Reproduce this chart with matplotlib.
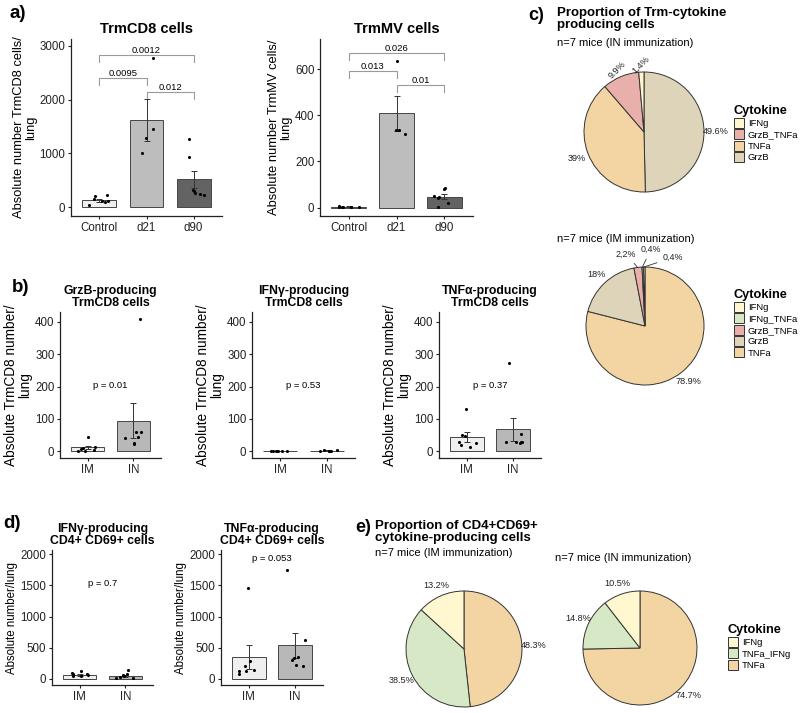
import numpy as np
import matplotlib.pyplot as plt
from matplotlib.patches import Patch

plt.rcParams['font.family'] = ['Liberation Sans', 'DejaVu Sans']

W, H = 800, 713

# ---- a) TrmCD8 / TrmMV cells ----
a_groups = ['Control', 'd21', 'd90']
cd8_mean = [130, 1630, 520]
cd8_se = [25, 390, 155]
cd8_ctrl = [120, 110, 95, 150, 210, 230, 45]
cd8_d21 = [2780, 1450, 1280, 1010]
cd8_d90 = [1260, 940, 330, 300, 260, 230, 250]
cd8_p = ['0.0095', '0.012', '0.0012']
cd8_p_y = [2410, 2150, 2830]

mv_mean = [4, 408, 47]
mv_se = [1.5, 77, 11]
mv_ctrl = [1, 2, 3, 2, 5, 8, 2]
mv_d21 = [636, 335, 321, 338]
mv_d90 = [85, 82, 48, 50, 40, 20, 5]
mv_p = ['0.013', '0.01', '0.026']
mv_p_y = [593, 531, 671]

# ---- b) cytokine-producing TrmCD8 ----
b_groups = ['IM', 'IN']
grzb_mean = [12, 95]
grzb_se = [6, 53]
grzb_im = [0, 2, 5, 8, 10, 15, 45]
grzb_in = [410, 60, 43, 41, 26, 23, 60]
ifng8_mean = [1, 2]
ifng8_se = [0.5, 1]
ifng8_im = [0, 1, 0, 2, 1, 0, 1]
ifng8_in = [5, 3, 1, 0, 2, 1, 2]
tnfa8_mean = [45, 68]
tnfa8_se = [15, 35]
tnfa8_im = [130, 50, 48, 28, 25, 20, 12]
tnfa8_in = [272, 55, 30, 28, 27, 30, 28]
b_pvals = ['p = 0.01', 'p = 0.53', 'p = 0.37']
b_p_y = [205, 205, 205]

# ---- d) CD4+ CD69+ ----
ifng4_mean = [60, 50]
ifng4_se = [12, 17]
ifng4_im = [120, 85, 70, 60, 50, 40, 80]
ifng4_in = [140, 70, 60, 50, 30, 20, 15]
tnfa4_mean = [348, 540]
tnfa4_se = [187, 200]
tnfa4_im = [1455, 278, 198, 140, 120, 130, 80]
tnfa4_in = [1743, 626, 358, 330, 219, 200, 300]
d_pvals = ['p = 0.7', 'p = 0.053']
d_p_y = [1535, 1930]

# ---- c), e) pies (clockwise from 12 o'clock) ----
c_in_names = ['GrzB', 'TNFa', 'GrzB_TNFa', 'IFNg']
c_in_pct = [49.6, 39.0, 9.9, 1.4]
c_in_text = ['49.6%', '39%', '9.9%', '1.4%']
c_im_names = ['TNFa', 'GrzB', 'GrzB_TNFa', 'IFNg_TNFa', 'IFNg']
c_im_pct = [78.9, 18.0, 2.2, 0.4, 0.4]
c_im_text = ['78.9%', '18%', '2,2%', '0,4%', '0,4%']
e_names = ['TNFa', 'TNFa_IFNg', 'IFNg']
e_im_pct = [48.3, 38.5, 13.2]
e_in_pct = [74.7, 14.8, 10.5]

pie_cols = {'IFNg': '#FFF7CF', 'GrzB_TNFa': '#E8AFAB', 'TNFa': '#F3D5A3',
            'GrzB': '#DDD4BA', 'IFNg_TNFa': '#D6E8C5', 'TNFa_IFNg': '#D6E8C5'}

rng = np.random.default_rng(7)


def rect(l, t, r, b):
    return [l / W, 1 - b / H, (r - l) / W, (b - t) / H]


def bar_panel(ax, groups, mean, se, pts, colors, ylim, yticks, ylabel, title, tsize, ysize):
    x = np.arange(1, len(groups) + 1)
    ax.bar(x, mean, width=0.72, color=colors, edgecolor='#454545', linewidth=0.7, zorder=1)
    ax.errorbar(x, mean, yerr=se, fmt='none', ecolor='#333333', elinewidth=0.7,
                capsize=2, capthick=0.7, zorder=2)
    for xi, p in zip(x, pts):
        jit = rng.uniform(-0.22, 0.22, len(p))
        ax.scatter(xi + jit, p, s=5, color='black', linewidths=0, zorder=3)
    ax.set_xlim(0.4, len(groups) + 0.6)
    ax.set_ylim(*ylim)
    ax.set_xticks(x)
    ax.set_xticklabels(groups)
    ax.set_yticks(yticks)
    ax.spines[['top', 'right']].set_visible(False)
    for s in ['left', 'bottom']:
        ax.spines[s].set_linewidth(0.9)
        ax.spines[s].set_color('#222222')
    ax.tick_params(length=2.5, width=0.8, color='#222222', labelsize=8.3,
                   labelcolor='#222222', pad=1.5)
    ax.set_ylabel(ylabel, fontsize=ysize, labelpad=2, linespacing=1.0)
    ax.set_title(title, fontsize=tsize, fontweight='bold', pad=4, linespacing=1.0)


def bracket(ax, x1, x2, y, text, tip):
    ax.plot([x1, x1, x2, x2], [y - tip, y, y, y - tip], color='#9a9a9a', lw=0.8, zorder=0)
    ax.text((x1 + x2) / 2, y, text, ha='center', va='bottom', fontsize=6.8)


fig = plt.figure(figsize=(8, 7.13), dpi=100)

# a)
a_cols = ['#EFEFEF', '#BDBDBD', '#636363']
ax = fig.add_axes(rect(71, 39, 222, 216))
bar_panel(ax, a_groups, cd8_mean, cd8_se, [cd8_ctrl, cd8_d21, cd8_d90], a_cols,
          (-160, 3125), [0, 1000, 2000, 3000], 'Absolute number TrmCD8 cells/\nlung',
          'TrmCD8 cells', 10.5, 9.3)
for (x1, x2), t, y in zip([(1, 2), (2, 3), (1, 3)], cd8_p, cd8_p_y):
    bracket(ax, x1, x2, y, t, 130)

ax = fig.add_axes(rect(320, 39, 473, 216))
bar_panel(ax, a_groups, mv_mean, mv_se, [mv_ctrl, mv_d21, mv_d90], a_cols,
          (-36, 730), [0, 200, 400, 600], 'Absolute number TrmMV cells/\nlung',
          'TrmMV cells', 10.5, 9.3)
for (x1, x2), t, y in zip([(1, 2), (2, 3), (1, 3)], mv_p, mv_p_y):
    bracket(ax, x1, x2, y, t, 30)

# b)
bd_cols = ['#EFEFEF', '#B8B8B8']
b_specs = [
    ((60, 312, 161, 458), grzb_mean, grzb_se, [grzb_im, grzb_in], 'GrzB-producing\nTrmCD8 cells'),
    ((252, 312, 355, 458), ifng8_mean, ifng8_se, [ifng8_im, ifng8_in], 'IFNγ-producing\nTrmCD8 cells'),
    ((439, 312, 541, 458), tnfa8_mean, tnfa8_se, [tnfa8_im, tnfa8_in], 'TNFα-producing\nTrmCD8 cells'),
]
for (box, m, s, pts, title), ptxt, py in zip(b_specs, b_pvals, b_p_y):
    ax = fig.add_axes(rect(*box))
    bar_panel(ax, b_groups, m, s, pts, bd_cols, (-20.5, 430.5), [0, 100, 200, 300, 400],
              'Absolute TrmCD8 number/\nlung', title, 8.8, 9.8)
    ax.text(1.5, py, ptxt, ha='center', va='center', fontsize=6.8)

# d)
d_specs = [
    ((52, 550, 153, 685), ifng4_mean, ifng4_se, [ifng4_im, ifng4_in], 'IFNγ-producing\nCD4+ CD69+ cells'),
    ((221, 550, 323, 685), tnfa4_mean, tnfa4_se, [tnfa4_im, tnfa4_in], 'TNFα-producing\nCD4+ CD69+ cells'),
]
for (box, m, s, pts, title), ptxt, py in zip(d_specs, d_pvals, d_p_y):
    ax = fig.add_axes(rect(*box))
    bar_panel(ax, b_groups, m, s, pts, bd_cols, (-100, 2070), [0, 500, 1000, 1500, 2000],
              'Absolute number/lung', title, 8.8, 8.3)
    ax.text(1.5, py, ptxt, ha='center', va='center', fontsize=6.8)


def pie(box, names, pct, texts, r_lab=1.2, rotate_small=False, manual=None):
    ax = fig.add_axes(rect(*box))
    ax.pie(pct, colors=[pie_cols[n] for n in names], startangle=90, counterclock=False,
           wedgeprops=dict(edgecolor='#333333', linewidth=0.7))
    ax.set_xlim(-1, 1)
    ax.set_ylim(-1, 1)
    ax.set_aspect('equal')
    ax.axis('off')
    cum = np.cumsum(pct)
    for i, (v, t) in enumerate(zip(pct, texts)):
        mid = np.deg2rad(90 - (cum[i] - v / 2) * 3.6)
        if manual and i in manual:
            tx, ty = manual[i]
            ax.annotate(t, xy=(np.cos(mid), np.sin(mid)), xytext=(tx, ty),
                        ha='center', va='center', fontsize=6.4, color='#222222',
                        arrowprops=dict(arrowstyle='-', color='#333333', lw=0.6,
                                        shrinkA=2, shrinkB=0))
            continue
        small = rotate_small and v < 12
        rr = 1.12 if small else r_lab
        ax.text(rr * np.cos(mid), rr * np.sin(mid), t, ha='center', va='center',
                fontsize=6.6, color='#222222', rotation=45 if small else 0)
    return ax


def legend(x, y, names):
    handles = [Patch(facecolor=pie_cols[n], edgecolor='#333333', linewidth=0.7) for n in names]
    fig.legend(handles, names, loc='upper left', bbox_to_anchor=(x / W, 1 - y / H),
               title='Cytokine', frameon=False, alignment='left', fontsize=6.8,
               title_fontproperties={'weight': 'bold', 'size': 9.2},
               handlelength=1.1, handleheight=1.25, handletextpad=0.35,
               labelspacing=0.12, borderpad=0, borderaxespad=0)


# c)
fig.text(528 / W, 1 - 15 / H, 'c)', fontsize=13, fontweight='bold', va='center')
fig.text(557 / W, 1 - 7 / H, 'Proportion of Trm-cytokine\nproducing cells', fontsize=9.5,
         fontweight='bold', va='top', linespacing=1.0)
fig.text(557 / W, 1 - 43 / H, 'n=7 mice (IN immunization)', fontsize=8, va='center')
pie((584, 72, 704, 192), c_in_names, c_in_pct, c_in_text, r_lab=1.2, rotate_small=True)
legend(734, 105, c_in_names[::-1])

fig.text(557 / W, 1 - 239 / H, 'n=7 mice (IM immunization)', fontsize=8, va='center')
pie((586, 267, 704, 385), c_im_names, c_im_pct, c_im_text, r_lab=1.2,
    manual={2: (-0.32, 1.22), 3: (0.1, 1.3), 4: (0.47, 1.16)})
legend(734, 289, c_im_names[::-1])

# e)
fig.text(355 / W, 1 - 527 / H, 'e)', fontsize=13, fontweight='bold', va='center')
fig.text(375 / W, 1 - 520 / H, 'Proportion of CD4+CD69+\ncytokine-producing cells', fontsize=9.5,
         fontweight='bold', va='top', linespacing=1.0)
fig.text(375 / W, 1 - 553 / H, 'n=7 mice (IM immunization)', fontsize=8, va='center')
fig.text(555 / W, 1 - 558 / H, 'n=7 mice (IN immunization)', fontsize=8, va='center')
pie((406, 591, 522, 707), e_names, e_im_pct, ['48.3%', '38.5%', '13.2%'])
pie((583, 591, 697, 705), e_names, e_in_pct, ['74.7%', '14.8%', '10.5%'])
legend(728, 624, e_names[::-1])

# panel letters
fig.text(10 / W, 1 - 14 / H, 'a)', fontsize=13.5, fontweight='bold', va='center')
fig.text(12 / W, 1 - 287 / H, 'b)', fontsize=13.5, fontweight='bold', va='center')
fig.text(3 / W, 1 - 523 / H, 'd)', fontsize=13.5, fontweight='bold', va='center')

fig.savefig('out.png', dpi=100)
